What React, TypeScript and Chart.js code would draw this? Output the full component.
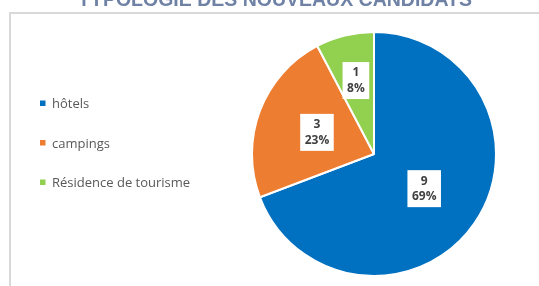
import React, { useEffect, useRef } from "react";
import { Chart, registerables } from "chart.js";

Chart.register(...registerables);

const titleText = "TYPOLOGIE DES NOUVEAUX CANDIDATS";
const categories = ["hôtels", "campings", "Résidence de tourisme"];
const values = [9, 3, 1];
const colors = ["#0070C0", "#ED7D31", "#92D050"];
const labelRadiusFactor = [0.5, 0.5, 0.62];

const decorPlugin = {
  id: "decor",
  beforeDraw(chart: any) {
    const ctx = chart.ctx;
    ctx.save();
    ctx.fillStyle = "#ffffff";
    ctx.fillRect(0, 0, chart.width, chart.height);
    // frame
    ctx.strokeStyle = "#d9d9d9";
    ctx.lineWidth = 2;
    ctx.beginPath();
    ctx.moveTo(10, chart.height);
    ctx.lineTo(10, 13);
    ctx.lineTo(chart.width, 13);
    ctx.stroke();
    // title (cut at top)
    ctx.fillStyle = "#6f82a6";
    ctx.font = "bold 19.5px 'Liberation Sans', Arial, sans-serif";
    ctx.textAlign = "center";
    ctx.textBaseline = "alphabetic";
    ctx.fillText(titleText, 275, 6);
    // legend
    ctx.font = "13px 'Open Sans', sans-serif";
    ctx.textAlign = "left";
    ctx.textBaseline = "alphabetic";
    const labels = chart.data.labels as string[];
    const bg = chart.data.datasets[0].backgroundColor as string[];
    labels.forEach((lab, i) => {
      const y = 108 + i * 39.5;
      ctx.fillStyle = bg[i];
      ctx.fillRect(40, y - 7.5, 5.5, 5.5);
      ctx.fillStyle = "#595959";
      ctx.fillText(lab, 52, y);
    });
    ctx.restore();
  },
  afterDatasetsDraw(chart: any) {
    const ctx = chart.ctx;
    const meta = chart.getDatasetMeta(0);
    const data = chart.data.datasets[0].data as number[];
    const total = data.reduce((a, b) => a + b, 0);
    ctx.save();
    ctx.font = "bold 12px 'Open Sans', sans-serif";
    ctx.textAlign = "center";
    ctx.textBaseline = "middle";
    meta.data.forEach((arc: any, i: number) => {
      const mid = (arc.startAngle + arc.endAngle) / 2;
      const r = arc.outerRadius * labelRadiusFactor[i];
      const cx = arc.x + Math.cos(mid) * r;
      const cy = arc.y + Math.sin(mid) * r;
      const l1 = String(data[i]);
      const l2 = Math.round((data[i] / total) * 100) + "%";
      const w = Math.max(ctx.measureText(l1).width, ctx.measureText(l2).width) + 9;
      const h = 37;
      ctx.fillStyle = "#ffffff";
      ctx.fillRect(cx - w / 2, cy - h / 2, w, h);
      ctx.fillStyle = "#404040";
      ctx.fillText(l1, cx, cy - 7.5);
      ctx.fillText(l2, cx, cy + 8);
    });
    ctx.restore();
  },
};

export default function App() {
  const ref = useRef<HTMLCanvasElement>(null);
  useEffect(() => {
    if (!ref.current) return;
    const chart = new Chart(ref.current, {
      type: "pie",
      data: {
        labels: categories,
        datasets: [
          {
            data: values,
            backgroundColor: colors,
            borderColor: "#ffffff",
            borderWidth: 2,
          },
        ],
      },
      options: {
        responsive: false,
        animation: false,
        layout: { padding: { left: 251, right: 42, top: 30, bottom: 8 } },
        plugins: {
          legend: { display: false },
          title: { display: false },
          tooltip: { enabled: false },
        },
      },
      plugins: [decorPlugin],
    });
    return () => chart.destroy();
  }, []);
  return (
    <div style={{ position: "absolute", left: 0, top: 0, width: 539, height: 286 }}>
      <canvas ref={ref} width={539} height={286} />
    </div>
  );
}
